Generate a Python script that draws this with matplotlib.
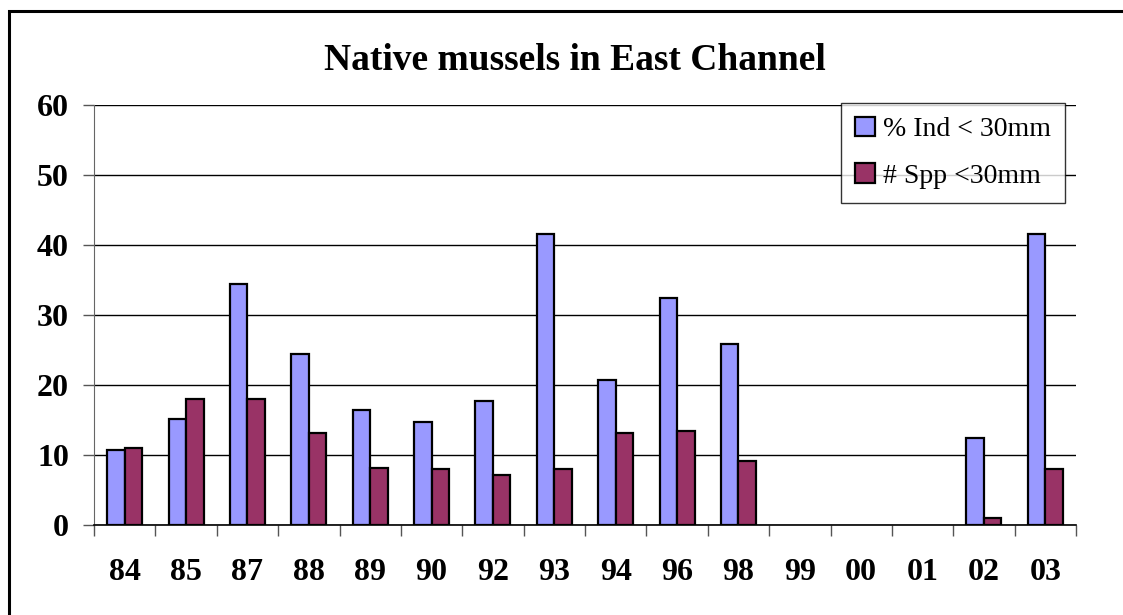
import numpy as np
import matplotlib.pyplot as plt
from matplotlib.patches import Rectangle

# Data (no bars for 99, 00, 01)
years = ["84", "85", "87", "88", "89", "90", "92", "93",
         "94", "96", "98", "99", "00", "01", "02", "03"]
pct_ind = [10.7, 15.1, 34.5, 24.4, 16.4, 14.7, 17.7, 41.5,
           20.7, 32.4, 25.8, np.nan, np.nan, np.nan, 12.4, 41.5]
spp = [11.0, 18.0, 18.0, 13.1, 8.1, 8.0, 7.1, 8.0,
       13.1, 13.4, 9.1, np.nan, np.nan, np.nan, 1.0, 8.0]

plt.rcParams['font.family'] = ['Liberation Serif', 'DejaVu Serif']

fig = plt.figure(figsize=(11.23, 6.15), dpi=100)
ax = fig.add_axes([94/1123, 1 - 525/615, (1076 - 94)/1123, (525 - 105)/615])

x = np.arange(len(years))
w = 1 / 3.5
ax.bar(x - w/2, pct_ind, w, color="#9999FF", edgecolor="black",
       linewidth=1.6, label="% Ind < 30mm", zorder=3)
ax.bar(x + w/2, spp, w, color="#993366", edgecolor="black",
       linewidth=1.6, label="# Spp <30mm", zorder=3)

ax.set_xlim(-0.5, len(years) - 0.5)
ax.set_ylim(0, 60)
ax.set_yticks(np.arange(0, 61, 10))
ax.yaxis.grid(True, color="black", linewidth=1.0, zorder=0)
ax.tick_params(axis="y", labelsize=23, length=8, width=1, color="#555555", pad=10)
for lbl in ax.get_yticklabels():
    lbl.set_fontweight("bold")

# ticks between categories, labels at centres
ax.set_xticks(np.arange(-0.5, len(years), 1.0))
ax.set_xticklabels([])
ax.tick_params(axis="x", which="major", direction="out", length=8, width=1, color="#555555")
ax.set_xticks(x, minor=True)
ax.set_xticklabels(years, minor=True, fontsize=23, fontweight="bold")
ax.tick_params(axis="x", which="minor", length=0, pad=24)

for s in ["top", "right"]:
    ax.spines[s].set_visible(False)
ax.spines["left"].set_color("#666666")
ax.spines["bottom"].set_color("black")
ax.spines["bottom"].set_linewidth(1.2)

fig.text(575/1123, 1 - 60/615, "Native mussels in East Channel",
         ha="center", va="center", fontsize=27, fontweight="bold")

leg = ax.legend(loc="upper right", bbox_to_anchor=(1065/1123, 1 - 103/615),
                bbox_transform=fig.transFigure, fontsize=20, frameon=True,
                fancybox=False, handlelength=0.7, handleheight=0.7,
                handletextpad=0.3, borderpad=0.5, labelspacing=0.75,
                borderaxespad=0)
leg.get_frame().set_edgecolor("black")
leg.get_frame().set_linewidth(1.0)

# chart border (extends past right and bottom edges)
fig.patches.append(Rectangle((9/1123, -0.1), 1.2, 1.1 - 11/615,
                             transform=fig.transFigure, fill=False,
                             edgecolor="black", linewidth=2.2))

fig.savefig("out.png", dpi=100)
